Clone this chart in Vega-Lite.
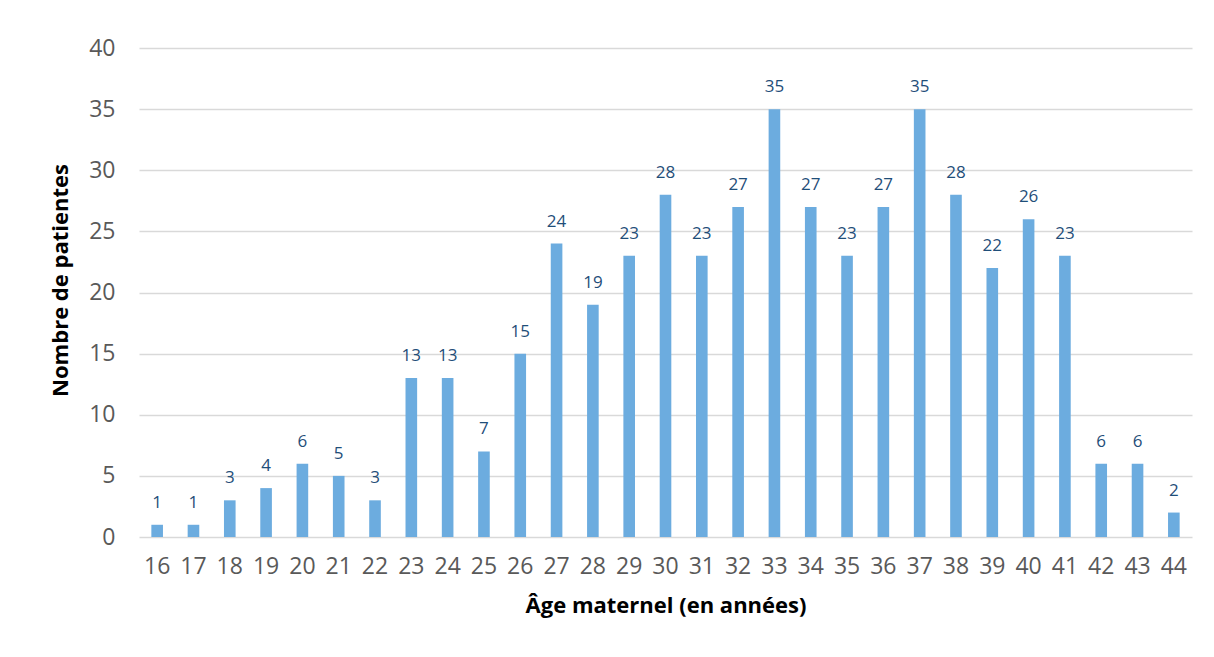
{
  "$schema": "https://vega.github.io/schema/vega-lite/v6.json",
  "autosize": {"type": "none"},
  "width": 1053,
  "height": 489,
  "padding": {"left": 139, "top": 48, "right": 22, "bottom": 120},
  "background": "white",
  "config": {"view": {"stroke": null}, "font": "Open Sans"},
  "data": {"values": [
    {"age": "16", "n": 1}, {"age": "17", "n": 1}, {"age": "18", "n": 3}, {"age": "19", "n": 4},
    {"age": "20", "n": 6}, {"age": "21", "n": 5}, {"age": "22", "n": 3}, {"age": "23", "n": 13},
    {"age": "24", "n": 13}, {"age": "25", "n": 7}, {"age": "26", "n": 15}, {"age": "27", "n": 24},
    {"age": "28", "n": 19}, {"age": "29", "n": 23}, {"age": "30", "n": 28}, {"age": "31", "n": 23},
    {"age": "32", "n": 27}, {"age": "33", "n": 35}, {"age": "34", "n": 27}, {"age": "35", "n": 23},
    {"age": "36", "n": 27}, {"age": "37", "n": 35}, {"age": "38", "n": 28}, {"age": "39", "n": 22},
    {"age": "40", "n": 26}, {"age": "41", "n": 23}, {"age": "42", "n": 6}, {"age": "43", "n": 6},
    {"age": "44", "n": 2}
  ]},
  "encoding": {
    "x": {
      "field": "age", "type": "ordinal", "sort": null,
      "scale": {"paddingInner": 0.68, "paddingOuter": 0.34},
      "axis": {
        "title": "Âge maternel (en années)", "labelAngle": 0,
        "labelFont": "Open Sans", "labelFontSize": 23, "labelColor": "#595959",
        "labelPadding": 18, "ticks": false, "domain": false,
        "titleFont": "Open Sans", "titleFontSize": 22, "titleFontWeight": "bold", "titleColor": "#000000",
        "titlePadding": 17
      }
    },
    "y": {
      "field": "n", "type": "quantitative",
      "scale": {"domain": [0, 40]},
      "axis": {
        "title": "Nombre de patientes", "values": [0, 5, 10, 15, 20, 25, 30, 35, 40],
        "labelFont": "Open Sans", "labelFontSize": 23, "labelColor": "#595959",
        "labelPadding": 24, "ticks": false, "domain": false,
        "gridColor": "#d9d9d9", "gridWidth": 1.5,
        "titleFont": "Open Sans", "titleFontSize": 22, "titleFontWeight": "bold", "titleColor": "#000000",
        "titleX": -79, "titleY": 232, "titleAngle": -90, "titleAlign": "center", "titleBaseline": "middle"
      }
    }
  },
  "layer": [
    {"mark": {"type": "bar", "color": "#6cacdf"}},
    {"mark": {"type": "text", "baseline": "alphabetic", "dy": -17, "fontSize": 17, "color": "#1f4e79", "font": "Open Sans"},
     "encoding": {"text": {"field": "n", "type": "quantitative"}}}
  ]
}
